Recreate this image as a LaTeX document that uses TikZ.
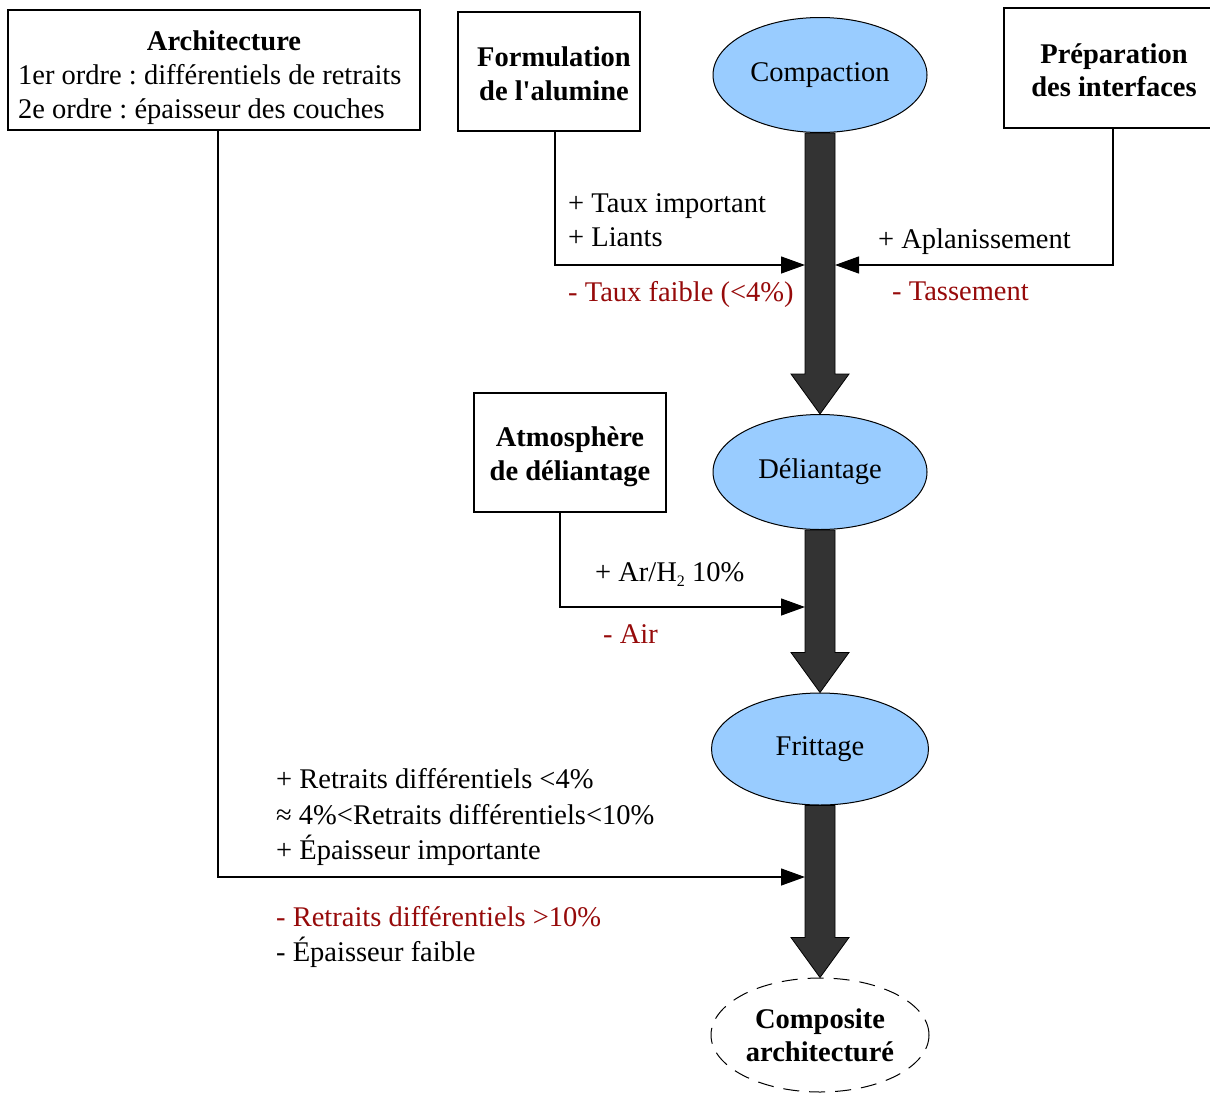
\documentclass[tikz,border=0pt]{standalone}
\usepackage{fontspec}
\setmainfont{Liberation Serif}
\usetikzlibrary{arrows.meta,calc,shapes.geometric}
\definecolor{ellfill}{RGB}{153,204,255}
\definecolor{shaftcol}{RGB}{51,51,51}
\definecolor{minuscol}{RGB}{150,10,10}
\frenchspacing
\begin{document}
\begin{tikzpicture}[x=1pt,y=-1pt,font=\fontsize{28.5}{34}\selectfont,
  box/.style={draw,line width=1.4pt,inner sep=0pt},
  proc/.style={ellipse,draw,line width=1pt,fill=ellfill,minimum width=214pt,minimum height=115pt,inner sep=0pt},
  conn/.style={line width=1.3pt,-{Triangle[length=24pt,width=17pt]}},
  lbl/.style={anchor=base west,inner sep=0pt},
  neg/.style={lbl,text=minuscol},
  ttl/.style={anchor=base,inner sep=0pt,font=\fontsize{28.5}{34}\selectfont\bfseries},
  bigarrow/.style={fill=shaftcol,draw=black,line width=0.8pt}]
\useasboundingbox (0,0) rectangle (1210,1095);

% boxes
\node[box,minimum width=412pt,minimum height=120pt] (archbox) at (214,70) {};
\node[box,minimum width=182pt,minimum height=119pt] (formbox) at (549,71.5) {};
\node[box,minimum width=218pt,minimum height=120pt] (prepbox) at (1113,68) {};
\node[box,minimum width=192pt,minimum height=119pt] (atmbox) at (570,452.5) {};

% box texts
\node[ttl] (archt) at (224,50) {Architecture};
\node[lbl] (arch1) at (18,84) {1er ordre : différentiels de retraits};
\node[lbl] (arch2) at (18,118) {2e ordre : épaisseur des couches};
\node[ttl] (form1) at (554,66) {Formulation};
\node[ttl] (form2) at (554,100) {de l\textquotesingle alumine};
\node[ttl] (prep1) at (1114,63) {Préparation};
\node[ttl] (prep2) at (1114,96) {des interfaces};
\node[ttl] (atm1) at (570,446) {Atmosphère};
\node[ttl] (atm2) at (570,480) {de déliantage};

% process ellipses
\node[proc] (comp) at (820,75) {Compaction};
\node[proc] (deli) at (820,472) {Déliantage};
\node[proc,minimum width=217pt,minimum height=112pt] (fritt) at (820,749) {Frittage};
\node[ellipse,draw,line width=1pt,dash pattern=on 16pt off 10pt,minimum width=218pt,minimum height=114pt,inner sep=0pt,align=center,font=\fontsize{28.5}{33}\selectfont\bfseries] (compo) at (820,1035) {Composite\\architecturé};

% big arrows
\foreach \a/\b in {comp/deli,deli/fritt,fritt/compo}{
  \filldraw[bigarrow] ($(\a.south)+(-15,0)$) -- ($(\b.north)+(-15,-40)$) -- ($(\b.north)+(-29,-40)$)
    -- (\b.north) -- ($(\b.north)+(29,-40)$) -- ($(\b.north)+(15,-40)$) -- ($(\a.south)+(15,0)$) -- cycle;
}

% connector end points on the shafts
\coordinate (inF) at (805,265);
\coordinate (inP) at (835,265);
\coordinate (inA) at (805,607);
\coordinate (inR) at (805,877);

\draw[conn] ([xshift=6pt]formbox.south) |- (inF);
\draw[conn] (prepbox.south) |- (inP);
\draw[conn] ([xshift=-10pt]atmbox.south) |- (inA);
\draw[conn] ([xshift=4pt]archbox.south) |- (inR);

% labels
\node[lbl] (l1) at (568,212) {+ Taux important};
\node[lbl] (l2) at (568,246) {+ Liants};
\node[neg] (l3) at (568,301) {- Taux faible (<4\%)};
\node[lbl] (l4) at (878,248) {+ Aplanissement};
\node[neg] (l5) at (892,300) {- Tassement};
\node[lbl] (l6) at (595,581) {+ Ar/H\raisebox{-5pt}{\fontsize{16}{16}\selectfont 2} 10\%};
\node[neg] (l7) at (603,643) {- Air};
\node[lbl] (l8) at (276,788) {+ Retraits différentiels <4\%};
\node[lbl] (l9) at (276,824) {≈ 4\%<Retraits différentiels<10\%};
\node[lbl] (l10) at (276,859) {+ Épaisseur importante};
\node[neg] (l11) at (276,926) {- Retraits différentiels >10\%};
\node[lbl] (l12) at (276,961) {- Épaisseur faible};
\end{tikzpicture}
\end{document}
